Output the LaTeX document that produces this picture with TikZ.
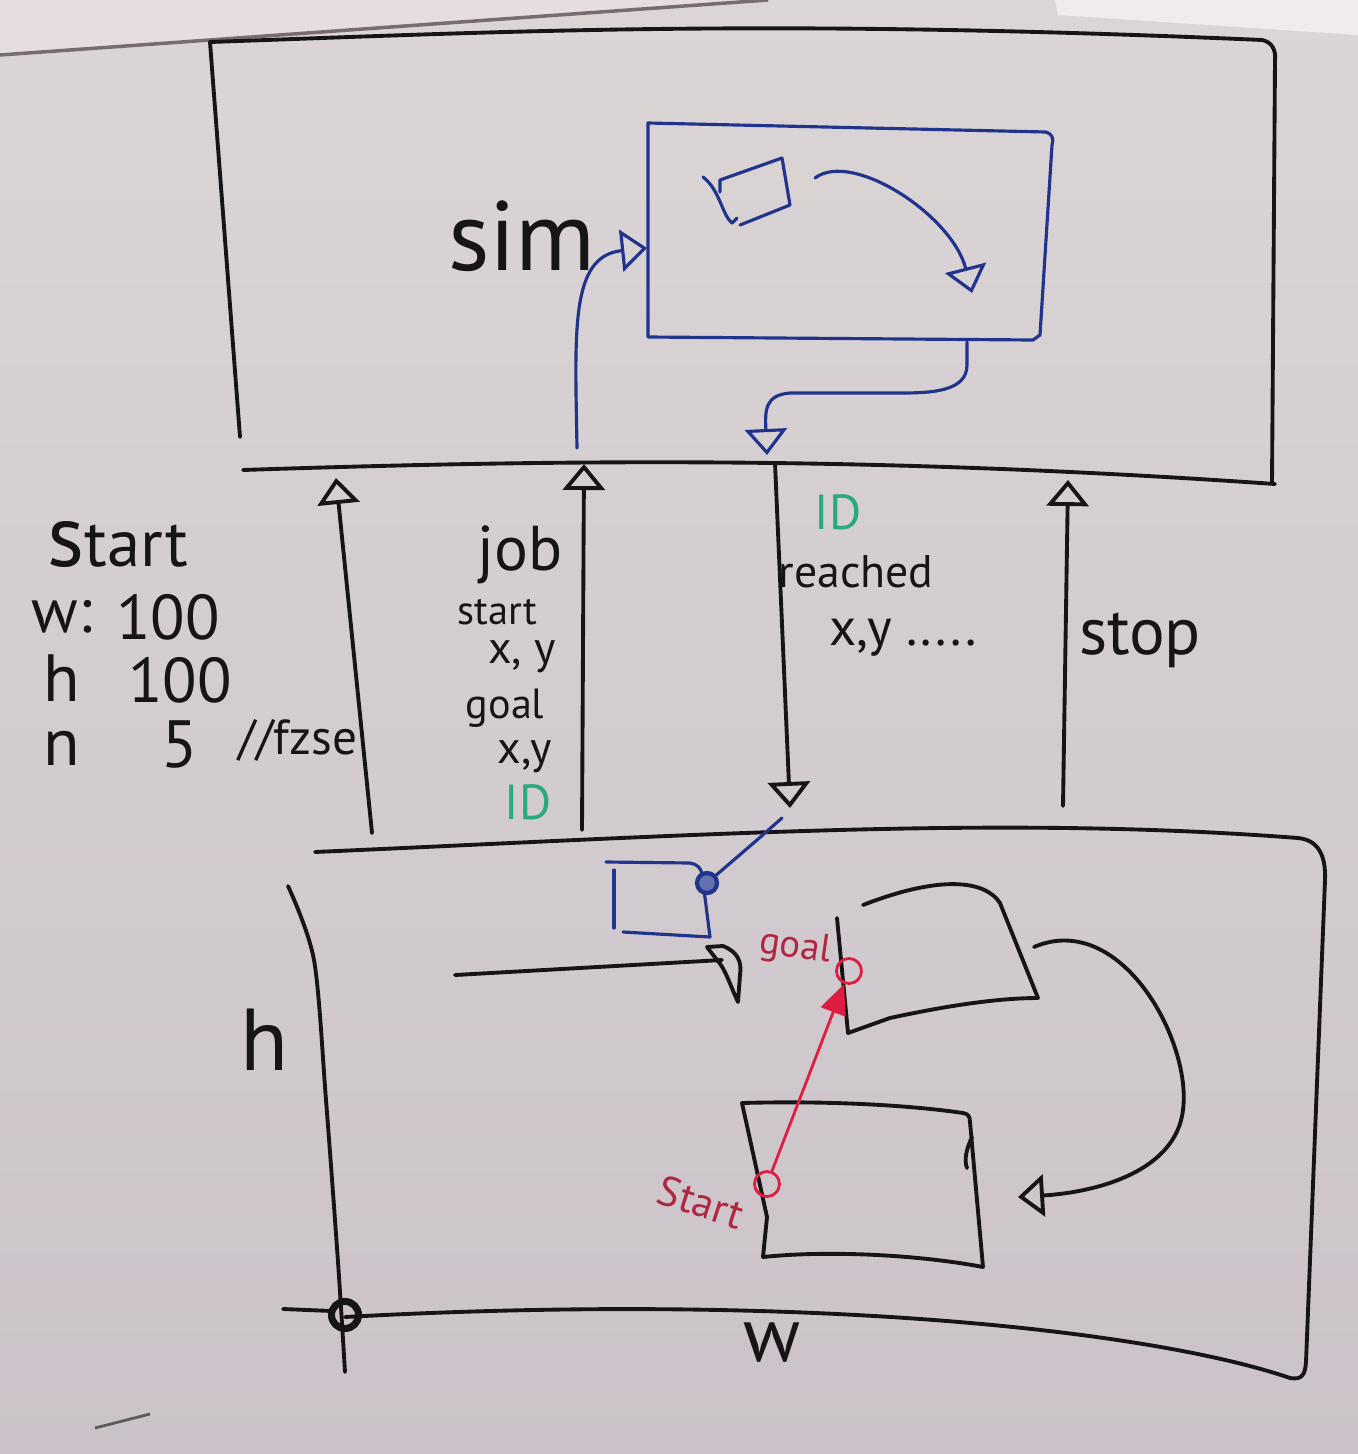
\documentclass[tikz,border=0pt]{standalone}
\usepackage{fontspec}
\setmainfont{PT Sans}
\usepackage{tikz}
\usetikzlibrary{arrows.meta,positioning,calc}
\definecolor{BoardTop}{RGB}{219,213,214}
\definecolor{BoardLow}{RGB}{203,195,201}
\definecolor{PaperLight}{RGB}{229,221,222}
\definecolor{PaperWhite}{RGB}{240,236,237}
\definecolor{PaperEdge}{RGB}{120,108,110}
\definecolor{InkBlack}{RGB}{22,20,22}
\definecolor{InkBlue}{RGB}{32,52,140}
\definecolor{InkGreen}{RGB}{40,170,125}
\definecolor{InkRed}{RGB}{222,30,65}
\definecolor{InkRedText}{RGB}{175,40,65}

\begin{document}
\begin{tikzpicture}[x=0.01cm, y=-0.01cm,
        pen/.style={draw=InkBlack, line width=1.1pt, line cap=round, line join=round},
        bluepen/.style={draw=InkBlue, line width=0.9pt, line cap=round, line join=round},
        redpen/.style={draw=InkRed, line width=0.8pt},
        flow/.style={-{Triangle[open, length=2.6mm, width=4.2mm]}},
        lbl/.style={text=InkBlack, inner sep=1pt},
        idtag/.style={text=InkGreen, inner sep=1pt, font=\fontsize{14}{15}\selectfont},
        redtag/.style={text=InkRedText, inner sep=1pt},
        ringpt/.style={circle, draw=InkRed, line width=0.8pt, minimum size=0.25cm, inner sep=0pt}
      ]
        \useasboundingbox (0,0) rectangle (1358,1454);
        \shade[top color=BoardTop, bottom color=BoardLow] (0,0) rectangle (1358,1454);
        \fill[PaperLight] (0,0) -- (768,0) -- (0,55) -- cycle;
        \draw[PaperEdge, line width=1pt] (0,55) -- (768,0);
        \fill[PaperWhite] (1055,0) -- (1358,0) -- (1358,35) -- (1058,15) -- cycle;
        \draw[InkBlack!70, line width=0.8pt] (95,1428) -- (150,1414);

        \draw[pen] (240,437) -- (210,42) .. controls (500,32) and (760,18) .. (1262,40) .. controls (1272,42) and (1276,50) .. (1275,60) -- (1272,483);
        \coordinate (busL) at (243,470);
        \coordinate (busR) at (1275,484);
        \draw[pen] (busL) .. controls (600,458) and (900,458) .. (busR);
        \node[lbl, font=\fontsize{28}{30}\selectfont] (sim) at (522,236) {sim};

        \draw[bluepen] (648,123) -- (1046,132) .. controls (1052,134) and (1054,138) .. (1052,145) -- (1040,335) -- (1033,340) -- (648,337) -- cycle;
        \draw[bluepen] (720,192) -- (720,180) -- (782,158) -- (790,205) -- (740,225);
        \draw[bluepen] (703,177) .. controls (720,190) and (722,215) .. (732,223) -- (737,218);
        \coordinate (turnA) at (815,178);
        \coordinate (turnB) at (972,293);
        \draw[bluepen, flow] (turnA) .. controls (852,150) and (952,215) .. (turnB);
        \coordinate (simIn) at (647,248);
        \coordinate (jobUp) at (577,448);
        \draw[bluepen, flow] (jobUp) .. controls (575,330) and (570,256) .. (simIn);
        \coordinate (simOut) at (967,342);
        \coordinate (busDn) at (767,455);
        \draw[bluepen, flow] (simOut) -- (967,365) .. controls (967,392) and (930,393) .. (900,393) -- (790,393) .. controls (765,395) and (765,410) .. (busDn);

        \coordinate (cfgB) at (372,833);
        \coordinate (cfgT) at (336,478);
        \coordinate (jobB) at (582,830);
        \coordinate (jobT) at (584,464);
        \coordinate (stopB) at (1063,806);
        \coordinate (stopT) at (1068,480);
        \coordinate (rchT) at (775,463);
        \coordinate (rchB) at (790,808);
        \foreach \a/\b in {cfgB/cfgT, jobB/jobT, stopB/stopT, rchT/rchB} {\draw[pen, flow] (\a) -- (\b);}

        \node[lbl, font=\fontsize{19}{20}\selectfont] (cfg) at (118,545) {{\fontsize{25}{25}\selectfont s}tart};
        \node[lbl, font=\fontsize{18}{19}\selectfont] (wkey) at (62,617) {w:};
        \node[lbl, font=\fontsize{18}{19}\selectfont] (wval) at (168,617) {100};
        \node[lbl, font=\fontsize{19}{20}\selectfont] (hkey) at (62,678) {h};
        \node[lbl, font=\fontsize{18}{19}\selectfont] (hval) at (180,680) {100};
        \node[lbl, font=\fontsize{19}{20}\selectfont] (nkey) at (62,748) {n};
        \node[lbl, font=\fontsize{19}{20}\selectfont] (nval) at (180,745) {5};
        \node[lbl, font=\fontsize{14}{15}\selectfont] (note) at (298,740) {//fzse};

        \node[lbl, font=\fontsize{18}{19}\selectfont] (job) at (520,555) {job};
        \node[lbl, font=\fontsize{11.5}{12}\selectfont] (jstart) at (497,612) {start};
        \node[lbl, font=\fontsize{13}{14}\selectfont] (jsxy) at (522,657) {x, y};
        \node[lbl, font=\fontsize{12}{13}\selectfont] (jgoal) at (505,708) {goal};
        \node[lbl, font=\fontsize{13}{14}\selectfont] (jgxy) at (525,757) {x,y};
        \node[idtag] (jid) at (528,802) {ID};

        \node[idtag] (rid) at (838,512) {ID};
        \node[lbl, font=\fontsize{13}{14}\selectfont] (reached) at (856,572) {reached};
        \node[lbl, font=\fontsize{15}{16}\selectfont] (rxy) at (903,638) {x,y .....};
        \node[lbl, font=\fontsize{19}{20}\selectfont] (stop) at (1140,640) {stop};

        \draw[pen] (315,852) .. controls (700,835) and (1000,815) .. (1298,838) .. controls (1318,840) and (1326,855) .. (1325,880) -- (1306,1362) .. controls (1305,1375) and (1302,1380) .. (1290,1378) .. controls (1150,1330) and (800,1292) .. (345,1317);
        \draw[pen] plot[smooth] coordinates {(288,886) (314,960) (326,1100) (338,1262) (345,1372)};
        \draw[pen] (283,1309) -- (332,1311);
        \node[circle, draw=InkBlack, line width=2pt, minimum size=0.27cm, inner sep=0pt] (origin) at (345,1315) {};
        \node[lbl, font=\fontsize{25}{26}\selectfont] (hside) at (265,1040) {h};
        \node[lbl, font=\fontsize{22}{24}\selectfont] (wside) at (772,1343) {w};

        \draw[bluepen] (614,870) -- (614,928);
        \draw[bluepen] (606,862) -- (690,863) .. controls (697,864) and (701,868) .. (702,874) -- (710,937) -- (623,932);
        \node[circle, draw=InkBlue, fill=InkBlue!70, line width=1.2pt, minimum size=0.2cm, inner sep=0pt] (robot) at (707,883) {};
        \draw[bluepen] (robot) -- (757,840) -- (782,818);

        \draw[pen] (455,975) -- (722,960);
        \draw[pen] (707,947) -- (723,946) .. controls (738,952) and (742,962) .. (740,975) -- (738,1002) .. controls (730,985) and (725,968) .. (717,960) -- cycle;

        \draw[pen] (837,918) -- (848,1033) -- (890,1018) .. controls (950,1005) and (1000,998) .. (1038,998) -- (1000,903) .. controls (985,880) and (940,875) .. (863,905);
        \coordinate (loopA) at (1034,947);
        \coordinate (loopB) at (1018,1197);
        \draw[pen, flow] (loopA) .. controls (1120,910) and (1192,1040) .. (1183,1110) .. controls (1176,1170) and (1100,1192) .. (loopB);

        \draw[pen] (742,1103) .. controls (850,1100) and (930,1108) .. (963,1113) .. controls (968,1114) and (970,1116) .. (970,1122) -- (983,1267) .. controls (920,1255) and (830,1250) .. (763,1257) -- (767,1217) -- cycle;
        \draw[pen] (972,1137) .. controls (966,1150) and (964,1160) .. (967,1168);

        \node[ringpt] (startpt) at (767,1184) {};
        \node[ringpt] (goalpt) at (849,971) {};
        \draw[redpen, -{Triangle[length=3mm, width=2.6mm]}] (startpt) -- (goalpt);
        \node[redtag, font=\fontsize{11}{12}\selectfont, rotate=-8] (goaltxt) at (795,948) {goal};
        \node[redtag, font=\fontsize{12}{13}\selectfont, rotate=-18] (starttxt) at (701,1202) {Start};
\end{tikzpicture}
\end{document}
